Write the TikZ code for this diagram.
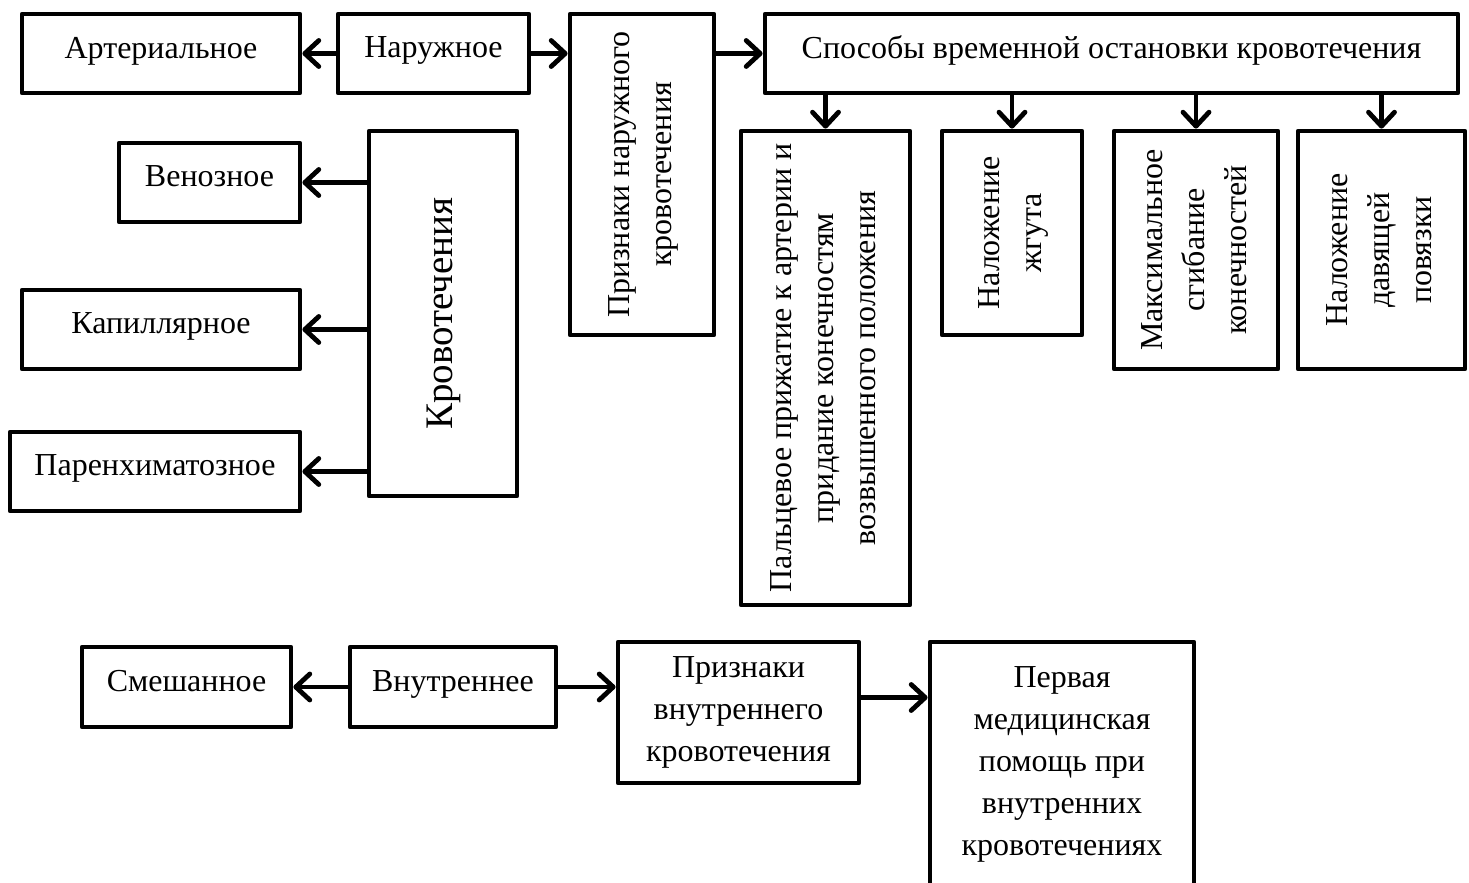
\documentclass[tikz,border=0pt]{standalone}
\usepackage{fontspec}
\setmainfont{Liberation Serif}
\usetikzlibrary{arrows.meta}

\newcommand{\vlabel}[1]{\rotatebox{90}{\begin{tabular}{@{}c@{}}#1\end{tabular}}}

\begin{document}
\begin{tikzpicture}[
    x=0.5pt, y=-0.5pt,
    box/.style={
        draw,
        line width=2.4pt,
        line join=round,
        inner sep=1pt,
        align=center,
    },
    every node/.style={
        font=\fontsize{16}{21}\selectfont,
    },
    arr/.style={
        line width=2.4pt,
        -{Straight Barb[length=7pt,width=13pt,line cap=round,line join=round]},
    },
]
    \useasboundingbox (0,0) rectangle (1469,883);

    % top row
    \node[box,minimum width=139pt,minimum height=39.5pt,text depth=6pt] (art) at (161,53.5) {Артериальное};
    \node[box,minimum width=95.5pt,minimum height=39.5pt,text depth=6pt] (nar) at (433.5,53.5) {Наружное};
    \node[box,minimum width=72pt,minimum height=160.5pt] (priznN) at (642,174.5)
        {\vlabel{Признаки наружного\\кровотечения}};
    \node[box,minimum width=346.5pt,minimum height=39.5pt,text depth=6pt] (spos) at (1111.5,53.5)
        {Способы временной остановки кровотечения};

    % kinds of bleeding
    \node[box,minimum width=74pt,minimum height=182.5pt,font=\fontsize{19.5}{23}\selectfont] (krov) at (443,313.5)
        {\vlabel{Кровотечения}};
    \node[box,minimum width=90.5pt,minimum height=39.5pt,text depth=6pt] (ven) at (209.5,182.5) {Венозное};
    \node[box,minimum width=139pt,minimum height=39.5pt,text depth=6pt] (kap) at (161,329.5) {Капиллярное};
    \node[box,minimum width=145pt,minimum height=39.5pt,text depth=6pt] (par) at (155,471.5) {Паренхиматозное};

    % ways to stop it
    \node[box,minimum width=84.5pt,minimum height=237pt] (palc) at (825.5,368)
        {\vlabel{Пальцевое прижатие к артерии и\\придание конечностям\\возвышенного положения}};
    \node[box,minimum width=70pt,minimum height=102pt] (zhgut) at (1012,233)
        {\vlabel{Наложение\\жгута}};
    \node[box,minimum width=82pt,minimum height=119pt] (maks) at (1196,250)
        {\vlabel{Максимальное\\сгибание\\конечностей}};
    \node[box,minimum width=83.5pt,minimum height=119pt] (dav) at (1381.5,250)
        {\vlabel{Наложение\\давящей\\повязки}};

    % bottom row
    \node[box,minimum width=104.5pt,minimum height=40pt,text depth=6pt] (smesh) at (186.5,687) {Смешанное};
    \node[box,minimum width=103pt,minimum height=40pt,text depth=6pt] (vnutr) at (453,687) {Внутреннее};
    \node[box,minimum width=120.5pt,minimum height=70.5pt] (priznV) at (738.5,712.5)
        {Признаки\\внутреннего\\кровотечения};
    \node[box,minimum width=132pt,minimum height=122pt] (perv) at (1062,764)
        {Первая\\медицинская\\помощь при\\внутренних\\кровотечениях};

    \draw[arr] (nar) -- (art);
    \draw[arr] (nar.east) -- (nar.east -| priznN.west);
    \draw[arr] (spos.west -| priznN.east) -- (spos.west);

    \foreach \b in {palc,zhgut,maks,dav} {
        \draw[arr] (spos.south -| \b.north) -- (\b.north);
    }
    \foreach \b in {ven,kap,par} {
        \draw[arr] (\b.east -| krov.west) -- (\b.east);
    }

    \draw[arr] (vnutr) -- (smesh);
    \draw[arr] (vnutr.east) -- (vnutr.east -| priznV.west);
    \draw[arr] ([yshift=7.5pt]priznV.east) -- ([yshift=7.5pt]priznV.east -| perv.west);
\end{tikzpicture}
\end{document}
